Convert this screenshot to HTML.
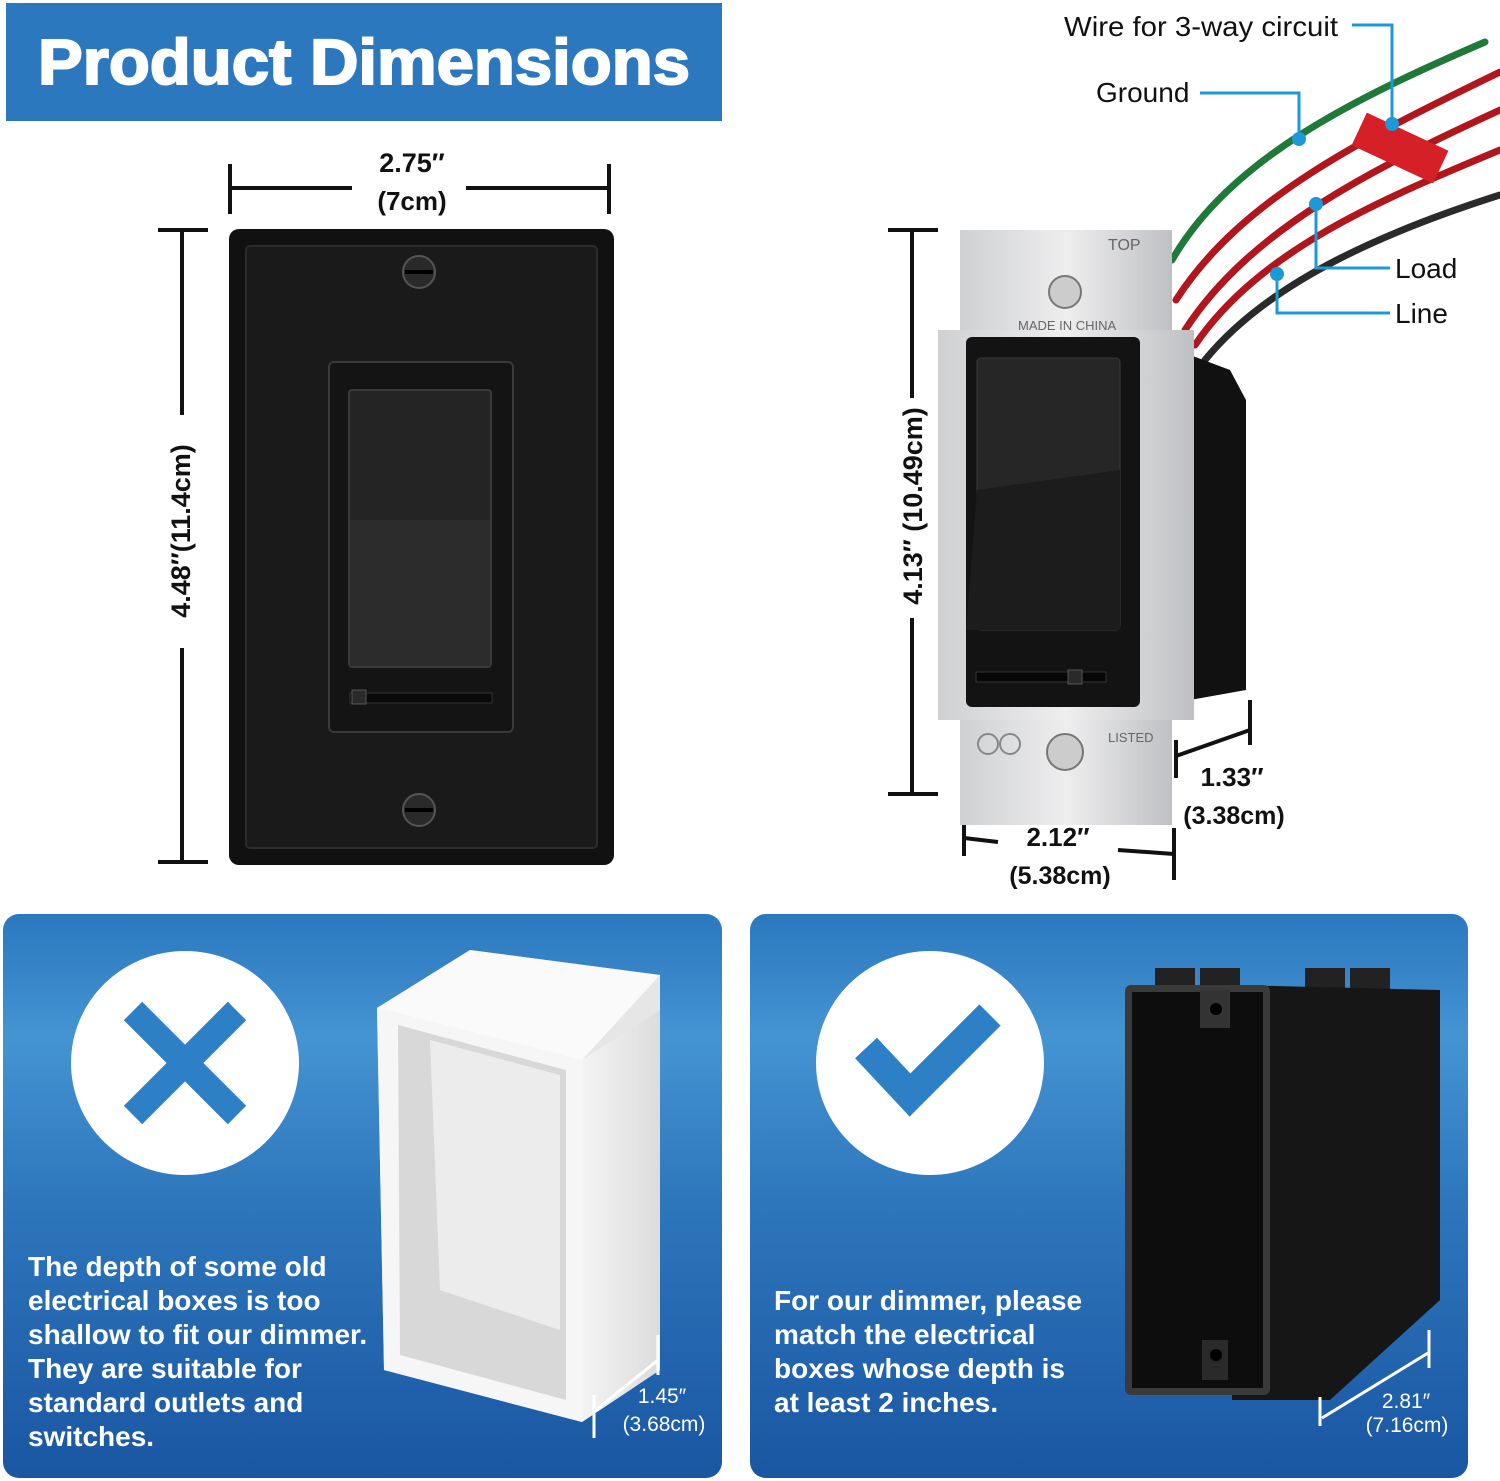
<!DOCTYPE html>
<html><head><meta charset="utf-8"><style>
html,body{margin:0;padding:0;background:#fff}
body{width:1500px;height:1481px;position:relative;overflow:hidden;font-family:"Liberation Sans",sans-serif}
svg{position:absolute;left:0;top:0}
</style></head><body>
<svg width="1500" height="1481" viewBox="0 0 1500 1481" xmlns="http://www.w3.org/2000/svg">
<defs>
<linearGradient id="pg" x1="0" y1="0" x2="0" y2="1">
<stop offset="0" stop-color="#2b78bf"/><stop offset="0.22" stop-color="#4594d2"/><stop offset="0.5" stop-color="#2e77bd"/><stop offset="1" stop-color="#1a56a2"/>
</linearGradient>
<linearGradient id="metal" x1="0" y1="0" x2="1" y2="0">
<stop offset="0" stop-color="#cfd0d2"/><stop offset="0.5" stop-color="#eeeeef"/><stop offset="1" stop-color="#bfc0c3"/>
</linearGradient>
<linearGradient id="wb" x1="0" y1="0" x2="1" y2="0">
<stop offset="0" stop-color="#f4f4f4"/><stop offset="1" stop-color="#dcdcdc"/>
</linearGradient>
</defs>
<!-- title -->
<rect x="6" y="3" width="716" height="118" fill="#2b78bf"/>
<text x="38" y="84" textLength="652" lengthAdjust="spacingAndGlyphs" font-size="64" font-weight="bold" fill="#fff" stroke="#fff" stroke-width="2">Product Dimensions</text>

<!-- left dims -->
<g stroke="#111" stroke-width="4" fill="none">
<line x1="230" y1="188" x2="352" y2="188"/><line x1="466" y1="188" x2="609" y2="188"/>
<line x1="230" y1="164" x2="230" y2="214"/><line x1="609" y1="164" x2="609" y2="214"/>
<line x1="182" y1="230" x2="182" y2="415"/><line x1="182" y1="648" x2="182" y2="862"/>
<line x1="158" y1="230" x2="208" y2="230"/><line x1="158" y1="862" x2="208" y2="862"/>
</g>
<text x="412" y="172" text-anchor="middle" font-size="27" font-weight="bold" fill="#111">2.75″</text>
<text x="412" y="210" text-anchor="middle" font-size="26" font-weight="bold" fill="#111">(7cm)</text>
<text transform="translate(190,531) rotate(-90)" text-anchor="middle" font-size="27" font-weight="bold" fill="#111">4.48″(11.4cm)</text>

<!-- wall plate -->
<rect x="229" y="229" width="385" height="636" rx="10" fill="#111"/>
<rect x="246" y="246" width="351" height="602" rx="4" fill="#1a1a1a" stroke="#2c2c2c" stroke-width="2"/>
<rect x="329" y="362" width="184" height="370" rx="5" fill="#141414" stroke="#3a3a3a" stroke-width="2"/>
<rect x="349" y="390" width="142" height="277" rx="3" fill="#242424" stroke="#3a3a3a" stroke-width="2"/>
<rect x="350" y="520" width="140" height="146" fill="#2c2c2c"/>
<rect x="350" y="693" width="142" height="10" fill="#0a0a0a" stroke="#333"/>
<rect x="352" y="690" width="14" height="14" fill="#2a2a2a" stroke="#555"/>
<circle cx="419" cy="272" r="16" fill="#2a2a2a" stroke="#555" stroke-width="2"/><line x1="405" y1="272" x2="433" y2="272" stroke="#000" stroke-width="4"/>
<circle cx="419" cy="810" r="16" fill="#2a2a2a" stroke="#555" stroke-width="2"/><line x1="405" y1="810" x2="433" y2="810" stroke="#000" stroke-width="4"/>

<!-- right dims -->
<g stroke="#111" stroke-width="4" fill="none">
<line x1="912" y1="230" x2="912" y2="398"/><line x1="912" y1="618" x2="912" y2="794"/>
<line x1="888" y1="230" x2="938" y2="230"/><line x1="888" y1="794" x2="938" y2="794"/>
<line x1="964" y1="838" x2="998" y2="842"/><line x1="1118" y1="850" x2="1174" y2="854"/>
<line x1="964" y1="810" x2="964" y2="856"/><line x1="1174" y1="828" x2="1174" y2="880"/>
<line x1="1176" y1="756" x2="1250" y2="730"/><line x1="1176" y1="740" x2="1176" y2="778"/><line x1="1250" y1="700" x2="1250" y2="745"/>
</g>
<text transform="translate(922,506) rotate(-90)" text-anchor="middle" font-size="27" font-weight="bold" fill="#111">4.13″ (10.49cm)</text>
<text x="1058" y="846" text-anchor="middle" font-size="26" font-weight="bold" fill="#111">2.12″</text>
<text x="1060" y="884" text-anchor="middle" font-size="25" font-weight="bold" fill="#111">(5.38cm)</text>
<text x="1232" y="786" text-anchor="middle" font-size="26" font-weight="bold" fill="#111">1.33″</text>
<text x="1234" y="824" text-anchor="middle" font-size="25" font-weight="bold" fill="#111">(3.38cm)</text>

<!-- wires -->
<g fill="none" stroke-linecap="round">
<path d="M1172 260 C1230 160 1350 100 1485 42" stroke="#1f7a3a" stroke-width="7"/>
<path d="M1176 300 C1240 200 1360 140 1500 72" stroke="#b0161c" stroke-width="7"/>
<path d="M1185 330 C1250 230 1370 170 1500 110" stroke="#b0161c" stroke-width="7"/>
<path d="M1195 345 C1260 250 1380 200 1500 150" stroke="#b0161c" stroke-width="7"/>
<path d="M1205 360 C1270 280 1390 230 1500 195" stroke="#2a2a2a" stroke-width="7"/>
</g>
<rect x="1355" y="130" width="90" height="36" fill="#d62027" transform="rotate(25 1400 148)"/>
<!-- back box -->
<path d="M1190 355 L1230 370 L1246 400 L1246 690 L1190 700 Z" fill="#111"/>
<!-- strap -->
<rect x="960" y="230" width="212" height="120" fill="url(#metal)"/>
<rect x="960" y="700" width="212" height="125" fill="url(#metal)"/>
<rect x="938" y="330" width="256" height="390" fill="url(#metal)"/>
<text x="1108" y="250" font-size="16" fill="#666">TOP</text>
<text x="1018" y="330" font-size="13" fill="#666">MADE IN CHINA</text>
<text x="1108" y="742" font-size="13" fill="#666">LISTED</text>
<circle cx="1065" cy="292" r="16" fill="#ccc" stroke="#777" stroke-width="2"/>
<circle cx="1065" cy="752" r="18" fill="#ccc" stroke="#777" stroke-width="2"/>
<circle cx="988" cy="744" r="10" fill="none" stroke="#888" stroke-width="2"/><circle cx="1010" cy="744" r="10" fill="none" stroke="#888" stroke-width="2"/>
<!-- switch body -->
<rect x="966" y="337" width="174" height="370" rx="6" fill="#131313"/>
<rect x="977" y="358" width="143" height="272" rx="4" fill="#262626" stroke="#3a3a3a"/>
<path d="M977 490 L1120 470 L1120 630 L966 630 Z" fill="#1c1c1c"/>
<rect x="976" y="672" width="130" height="10" fill="#070707" stroke="#333"/>
<rect x="1068" y="670" width="14" height="14" fill="#2a2a2a" stroke="#555"/>

<!-- callouts -->
<g stroke="#1b9ad6" stroke-width="3" fill="none">
<polyline points="1352,25 1392,25 1392,122"/>
<polyline points="1200,93 1299,93 1299,137"/>
<polyline points="1316,205 1316,268 1390,268"/>
<polyline points="1277,275 1277,313 1390,313"/>
</g>
<g fill="#1b9ad6"><circle cx="1392" cy="124" r="7"/><circle cx="1299" cy="139" r="7"/><circle cx="1316" cy="204" r="7"/><circle cx="1277" cy="274" r="7"/></g>
<g font-size="28" fill="#111">
<text x="1064" y="36" textLength="274" lengthAdjust="spacingAndGlyphs">Wire for 3-way circuit</text>
<text x="1096" y="102">Ground</text>
<text x="1395" y="278">Load</text>
<text x="1395" y="323">Line</text>
</g>

<!-- bottom panels -->
<rect x="3" y="914" width="719" height="564" rx="16" fill="url(#pg)"/>
<rect x="750" y="914" width="718" height="564" rx="16" fill="url(#pg)"/>
<ellipse cx="185" cy="1063" rx="114" ry="112" fill="#fff"/>
<g stroke="#2e80c6" stroke-width="26"><line x1="133" y1="1011" x2="237" y2="1115"/><line x1="237" y1="1011" x2="133" y2="1115"/></g>
<ellipse cx="930" cy="1063" rx="114" ry="112" fill="#fff"/>
<polyline points="866,1048 910,1095 990,1015" fill="none" stroke="#2e80c6" stroke-width="30"/>

<!-- white box -->
<path d="M377 1008 L470 950 L660 975 L660 1370 L582 1422 L384 1370 Z" fill="#e6e6e6"/>
<path d="M377 1008 L582 1060 L582 1422 L384 1370 Z" fill="#f6f6f6"/>
<path d="M582 1060 L660 1010 L660 1370 L582 1422 Z" fill="url(#wb)"/>
<path d="M377 1008 L470 950 L660 975 L582 1060 Z" fill="#fafafa"/>
<path d="M398 1025 L566 1070 L566 1400 L400 1355 Z" fill="#d8d8d8"/>
<path d="M430 1040 L560 1075 L560 1330 L440 1290 Z" fill="#ececec"/>
<!-- black box -->
<rect x="1155" y="968" width="40" height="28" fill="#222"/><rect x="1200" y="968" width="40" height="28" fill="#222"/>
<rect x="1305" y="968" width="40" height="28" fill="#222"/><rect x="1350" y="968" width="40" height="28" fill="#222"/>
<path d="M1232 985 L1440 990 L1440 1300 L1330 1400 L1232 1400 Z" fill="#161616"/>
<rect x="1125" y="985" width="145" height="410" rx="6" fill="#3a3a3a"/>
<rect x="1132" y="992" width="131" height="396" fill="#0d0d0d"/>
<rect x="1200" y="990" width="30" height="38" fill="#333"/><circle cx="1216" cy="1009" r="6" fill="#000"/>
<rect x="1202" y="1340" width="26" height="40" fill="#2a2a2a"/><circle cx="1216" cy="1355" r="6" fill="#000"/>

<!-- small dims -->
<g stroke="#fff" stroke-width="3" fill="none">
<line x1="596" y1="1410" x2="658" y2="1360"/><line x1="594" y1="1395" x2="594" y2="1438"/><line x1="658" y1="1335" x2="658" y2="1375"/>
<line x1="1322" y1="1418" x2="1428" y2="1353"/><line x1="1320" y1="1397" x2="1320" y2="1426"/><line x1="1429" y1="1330" x2="1429" y2="1368"/>
</g>
<g fill="#fff" font-size="21">
<text x="662" y="1403" text-anchor="middle">1.45″</text><text x="664" y="1431" text-anchor="middle">(3.68cm)</text>
<text x="1406" y="1408" text-anchor="middle">2.81″</text><text x="1407" y="1432" text-anchor="middle">(7.16cm)</text>
</g>
<g fill="#fff" font-size="28" font-weight="bold">
<text x="28" y="1276">The depth of some old</text>
<text x="28" y="1310">electrical boxes is too</text>
<text x="28" y="1344">shallow to fit our dimmer.</text>
<text x="28" y="1378">They are suitable for</text>
<text x="28" y="1412">standard outlets and</text>
<text x="28" y="1446">switches.</text>
<text x="774" y="1310">For our dimmer, please</text>
<text x="774" y="1344">match the electrical</text>
<text x="774" y="1378">boxes whose depth is</text>
<text x="774" y="1412">at least 2 inches.</text>
</g>
</svg>
</body></html>
